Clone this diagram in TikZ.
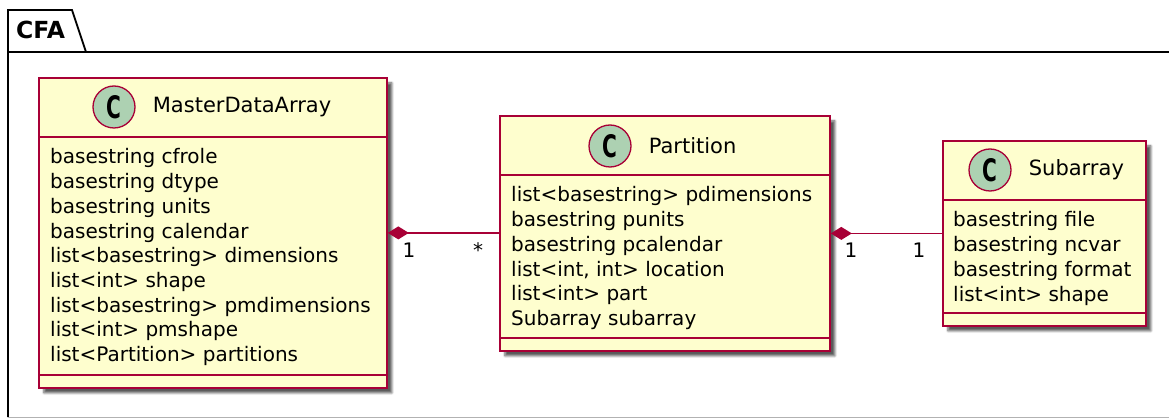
\documentclass[tikz,border=0pt]{standalone}
\usepackage{fontspec}
\setmainfont{DejaVu Sans}
\usetikzlibrary{positioning,arrows.meta,shadows.blur}
\definecolor{bd}{HTML}{A80036}
\definecolor{bg}{HTML}{FEFECE}
\definecolor{cc}{HTML}{ADD1B2}
\tikzset{
  cls/.style={draw=bd,fill=bg,line width=1.8pt,inner sep=0pt,anchor=north west,
    blur shadow={shadow xshift=5pt,shadow yshift=-5pt,shadow blur steps=6,shadow opacity=65}},
  sep/.style={draw=bd,line width=1.8pt},
  badge/.style={circle,draw=bd,fill=cc,line width=1.3pt,minimum size=42pt,inner sep=0pt,
    font=\bfseries\fontsize{31}{31}\selectfont},
  cname/.style={inner sep=0pt,font=\fontsize{21}{21}\selectfont},
  attr/.style={inner sep=0pt,anchor=base west,font=\fontsize{20}{20}\selectfont},
  mult/.style={inner sep=0pt,anchor=base,font=\fontsize{20}{20}\selectfont},
  comp/.style={draw=bd,line width=1.5pt,{Diamond[length=21pt,width=13pt]}-}
}
\begin{document}
\begin{tikzpicture}[x=1pt,y=-1pt]
  \useasboundingbox (0,0) rectangle (1169,419);
  % package
  \draw[line width=1.8pt] (8,417) -- (8,10) -- (72,10) -- (86,52);
  \draw[line width=1.8pt] (8,52) -- (1169,52);
  \draw[gray!60,line width=1pt] (8,417.5) -- (1169,417.5);
  \node[inner sep=0pt,anchor=base west,font=\bfseries\fontsize{23.5}{23.5}\selectfont] (cfa) at (16,39) {CFA};

  % classes
  \node[cls,minimum width=348pt,minimum height=310pt] (mda) at (38,77) {};
  \node[cls,minimum width=330pt,minimum height=235pt] (part) at (499,115) {};
  \node[cls,minimum width=203pt,minimum height=185pt] (sub) at (942,140) {};
  \foreach \c in {mda,part,sub}{
    \draw[sep] ([yshift=-60pt]\c.north west) -- ([yshift=-60pt]\c.north east);
    \draw[sep] ([yshift=14pt]\c.south west) -- ([yshift=14pt]\c.south east);
  }

  \node[badge] (mdac) at (114,107) {\scalebox{0.65}[1]{C}};
  \node[cname,right=17pt of mdac] (mdan) {MasterDataArray};
  \node[badge] (partc) at (610,146) {\scalebox{0.65}[1]{C}};
  \node[cname,right=17pt of partc] (partn) {Partition};
  \node[badge] (subc) at (990,170) {\scalebox{0.65}[1]{C}};
  \node[cname,right=17pt of subc] (subn) {Subarray};

  \foreach \a [count=\i from 0] in {basestring cfrole,basestring dtype,basestring units,
      basestring calendar,list<basestring> dimensions,list<int> shape,
      list<basestring> pmdimensions,list<int> pmshape,list<Partition> partitions}
    \node[attr] (mda-a\i) at (50,{164+24.7*\i}) {\a};
  \foreach \a [count=\i from 0] in {list<basestring> pdimensions,basestring punits,
      basestring pcalendar,{list<int, int> location},list<int> part,Subarray subarray}
    \node[attr] (part-a\i) at (511,{202+24.7*\i}) {\a};
  \foreach \a [count=\i from 0] in {basestring file,basestring ncvar,basestring format,list<int> shape}
    \node[attr] (sub-a\i) at (953,{227+24.7*\i}) {\a};

  % compositions
  \draw[comp] (mda.east) -- (mda.east -| part.west);
  \draw[comp] (part.east) -- (part.east -| sub.west);
  \node[mult] (m1) at (409,258) {1};
  \node[mult] (m2) at (478,258) {*};
  \node[mult] (m3) at (851,258) {1};
  \node[mult] (m4) at (919,258) {1};
\end{tikzpicture}
\end{document}
